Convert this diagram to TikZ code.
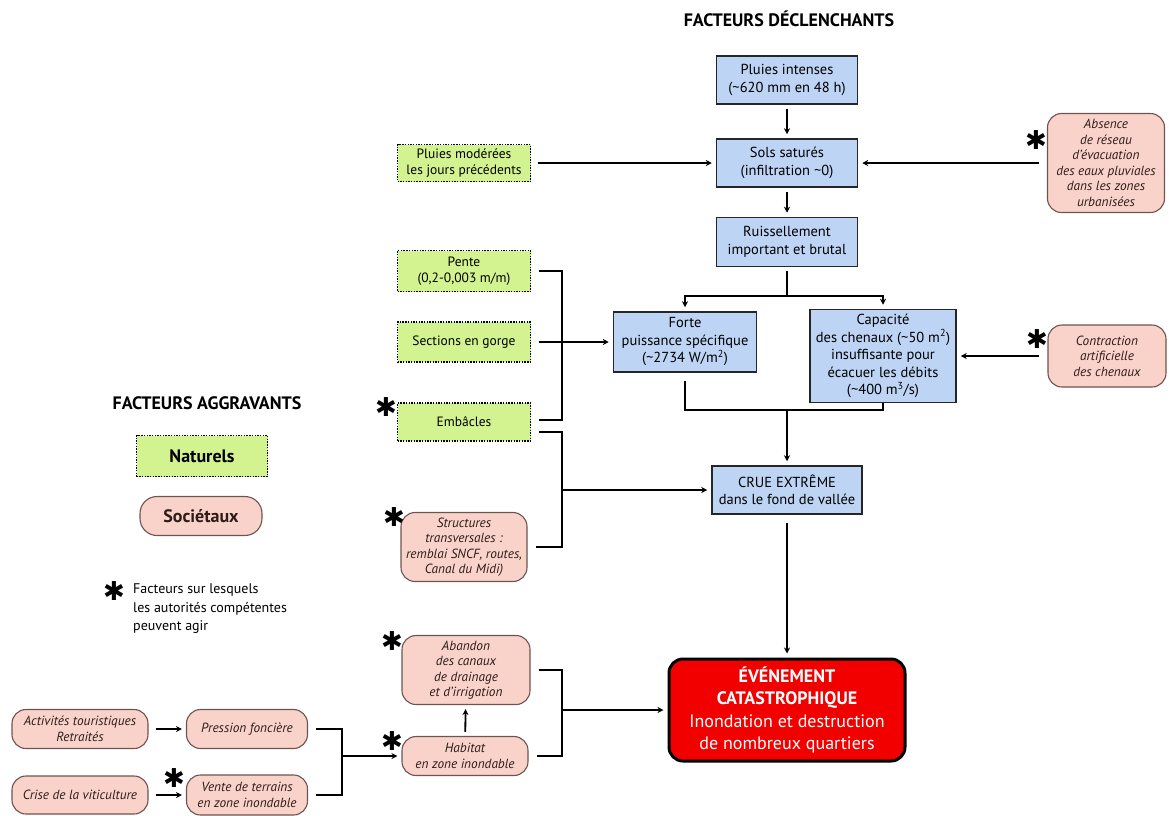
\documentclass[tikz,border=0pt]{standalone}
\usepackage{fontspec}
\setmainfont{PT Sans}
\newfontfamily\dejavu{DejaVu Sans}
\usetikzlibrary{arrows.meta}
\definecolor{bluef}{HTML}{BDD4F4}
\definecolor{greenf}{HTML}{D3F391}
\definecolor{pinkf}{HTML}{F9D2CA}
\definecolor{pinkd}{HTML}{6E5450}
\definecolor{pinkt}{HTML}{2E1C18}
\definecolor{redf}{HTML}{F20000}
\tikzset{
  base/.style={align=center, inner sep=1pt, text=black},
  bluebox/.style={base, draw=black!85, line width=1.5pt, fill=bluef, font=\fontsize{14.5}{17.5}\selectfont},
  greenbox/.style={base, draw=black, line width=1.8pt, dash pattern=on 1.4pt off 1.3pt, fill=greenf, font=\fontsize{13.5}{16.5}\selectfont},
  pinkbox/.style={base, draw=pinkd, line width=1.1pt, fill=pinkf, text=pinkt, rounded corners=14pt, font=\itshape\fontsize{13.3}{15.5}\selectfont},
  conn/.style={line width=1.8pt, draw=black},
  arr/.style={conn, -{Stealth[length=6pt,width=6pt]}, shorten >=4pt},
  ast/.style={font=\dejavu\fontsize{26}{26}\selectfont, inner sep=0pt},
  ttl/.style={font=\bfseries\fontsize{18}{21}\selectfont, inner sep=0pt},
  legline/.style={anchor=west, inner sep=0pt, font=\fontsize{14}{16}\selectfont},
}
\begin{document}
\begin{tikzpicture}[x=1pt, y={(0pt,-1pt)}]
\useasboundingbox (0,0) rectangle (1169,815);

% titles
\node[ttl] (t1) at (789,19) {FACTEURS DÉCLENCHANTS};
\node[ttl] (t2) at (207,403) {FACTEURS AGGRAVANTS};

% main chain
\node[bluebox, minimum width=141pt, minimum height=48pt] (pluies) at (787,80) {Pluies intenses\\(\textasciitilde620 mm en 48 h)};
\node[bluebox, minimum width=141pt, minimum height=48pt] (sols) at (787,163) {Sols saturés\\(infiltration \textasciitilde0)};
\node[bluebox, minimum width=141pt, minimum height=49pt] (ruis) at (787,242) {Ruissellement\\important et brutal};
\node[bluebox, minimum width=143pt, minimum height=60pt] (forte) at (685,342) {Forte\\puissance spécifique\\(\textasciitilde2734 W/m\textsuperscript{2})};
\node[bluebox, minimum width=146pt, minimum height=93pt] (cap) at (883,356) {Capacité\\des chenaux (\textasciitilde50 m\textsuperscript{2})\\insuffisante pour\\écacuer les débits\\(\textasciitilde400 m\textsuperscript{3}/s)};
\node[bluebox, minimum width=150pt, minimum height=48pt] (crue) at (787,490) {CRUE EXTRÊME\\dans le fond de vallée};
\node[draw=black, line width=3pt, fill=redf, rounded corners=14pt, text=white, align=center, inner sep=1pt, minimum width=236pt, minimum height=102pt, font=\fontsize{18}{22.5}\selectfont] (event) at (787,710)
  {{\bfseries ÉVÉNEMENT}\\{\bfseries CATASTROPHIQUE}\\Inondation et destruction\\de nombreux quartiers};

% natural factors
\node[greenbox, minimum width=133pt, minimum height=37pt] (pm) at (464,163) {Pluies modérées\\les jours précédents};
\node[greenbox, minimum width=133pt, minimum height=41pt] (pente) at (464,271) {Pente\\(0,2-0,003 m/m)};
\node[greenbox, minimum width=133pt, minimum height=40pt] (sec) at (464,342) {Sections en gorge};
\node[greenbox, minimum width=133pt, minimum height=38pt] (emb) at (464,422) {Embâcles};

% societal factors
\node[pinkbox, minimum width=117pt, minimum height=99pt] (abs) at (1106,163) {Absence\\de réseau\\d’évacuation\\des eaux pluviales\\dans les zones\\urbanisées};
\node[pinkbox, minimum width=118pt, minimum height=62pt] (contr) at (1107,356) {Contraction\\artificielle\\des chenaux};
\node[pinkbox, minimum width=126pt, minimum height=69pt] (struct) at (464,547) {Structures\\transversales :\\remblai SNCF, routes,\\Canal du Midi)};
\node[pinkbox, minimum width=128pt, minimum height=69pt] (aband) at (466,670) {Abandon\\des canaux\\de drainage\\et d’irrigation};
\node[pinkbox, minimum width=126pt, minimum height=39pt] (habit) at (465,756) {Habitat\\en zone inondable};
\node[pinkbox, minimum width=136pt, minimum height=39pt] (act) at (80,729) {Activités touristiques\\Retraités};
\node[pinkbox, minimum width=121pt, minimum height=39pt] (pres) at (247,729) {Pression foncière};
\node[pinkbox, minimum width=136pt, minimum height=38pt] (crise) at (80,795) {Crise de la viticulture};
\node[pinkbox, minimum width=121pt, minimum height=40pt] (vente) at (247,795) {Vente de terrains\\en zone inondable};

% legend
\node[greenbox, minimum width=131pt, minimum height=41pt, font=\bfseries\fontsize{18}{20}\selectfont] (nat) at (202,456) {Naturels};
\node[pinkbox, minimum width=122pt, minimum height=39pt, font=\bfseries\fontsize{18}{20}\selectfont, rounded corners=17pt] (soc) at (201,516) {Sociétaux};
\node[ast] (a0) at (114,591) {✱};
\node[legline] (leg1) at (133,590) {Facteurs sur lesquels};
\node[legline] (leg2) at (133,608.5) {les autorités compétentes};
\node[legline] (leg3) at (133,627) {peuvent agir};

% asterisks
\node[ast] (a1) at (1036,140) {✱};
\node[ast] (a2) at (1037,339) {✱};
\node[ast] (a3) at (386,407) {✱};
\node[ast] (a4) at (394,517) {✱};
\node[ast] (a5) at (392,641) {✱};
\node[ast] (a6) at (392,741) {✱};
\node[ast] (a7) at (174,778) {✱};

% connectors: trigger chain
\draw[arr, shorten <=4pt] (pluies) -- (sols);
\draw[arr, shorten <=4pt] (sols) -- (ruis);
\coordinate (sp) at (787,296);
\draw[conn, shorten <=4pt] (ruis) -- (sp);
\draw[arr] (sp) -| (forte);
\draw[arr] (sp) -| (cap);
\coordinate (jn) at (787,410);
\draw[conn, shorten <=8pt] (forte.south) |- (cap.south |- jn) -- (cap.south);
\draw[arr] (jn) -- (crue);
\draw[arr, shorten <=8pt] (crue) -- (event);

\draw[arr, shorten <=7pt] (pm) -- (sols);
\draw[arr, shorten <=8pt] (abs) -- (sols);
\draw[arr, shorten <=8pt] (contr) -- (cap);

% natural brackets
\coordinate (b1) at (562,420);
\draw[conn, shorten <=8pt, shorten >=8pt] (pente.east) -| (b1) -- ([yshift=2pt]emb.east);
\draw[arr, shorten <=8pt] (sec) -- (forte);
\coordinate (b2) at (562,432);
\coordinate (b2m) at (562,490);
\draw[conn, shorten <=8pt, shorten >=8pt] ([yshift=-10pt]emb.east) -- (b2) |- (struct.east);
\draw[arr] (b2m) -- (crue);

% societal brackets
\coordinate (b3) at (562,710);
\draw[conn, shorten <=8pt, shorten >=8pt] (aband.east) -| (b3) |- (habit.east);
\draw[arr] (b3) -- (event);
\draw[arr, shorten <=4pt] (habit) -- (aband);

\draw[arr, shorten <=7pt] (act) -- (pres);
\draw[arr, shorten <=7pt] (crise) -- (vente);
\coordinate (b4) at (342,756);
\draw[conn, shorten <=8pt, shorten >=8pt] (pres.east) -| (b4) |- (vente.east);
\draw[arr] (b4) -- (habit);
\end{tikzpicture}
\end{document}
